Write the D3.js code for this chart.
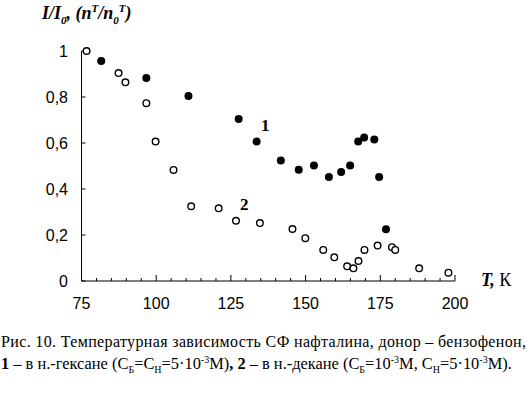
<!DOCTYPE html>
<html>
<head>
<meta charset="utf-8">
<script src="https://cdn.jsdelivr.net/npm/d3@7"></script>
<style>
  body { margin: 0; background: #fff; }
  svg { display: block; }
</style>
</head>
<body>
<div id="chart"></div>
<script>
/* series 1: n-hexane (filled), series 2: n-decane (open) */
var hexaneT = [81.6, 96.7, 110.8, 127.6, 133.6, 141.7, 147.7, 152.8, 157.8, 161.9, 164.9, 167.6, 169.6, 173.0, 174.6, 176.9];
var hexaneV = [0.957, 0.883, 0.804, 0.704, 0.606, 0.524, 0.484, 0.502, 0.452, 0.474, 0.502, 0.606, 0.624, 0.615, 0.452, 0.225];

var decaneT = [76.7, 87.4, 89.7, 96.7, 99.8, 105.8, 111.7, 120.9, 126.7, 134.7, 145.6, 149.9, 155.9, 159.6, 163.9, 166.0, 167.7, 169.7, 174.1, 178.9, 180.0, 188.0, 197.8];
var decaneV = [1.0, 0.904, 0.864, 0.773, 0.606, 0.483, 0.325, 0.316, 0.262, 0.252, 0.226, 0.186, 0.135, 0.103, 0.064, 0.055, 0.087, 0.135, 0.154, 0.147, 0.135, 0.055, 0.036];

var xMajor = [75, 100, 125, 150, 175, 200];
var yTicks = [0, 0.2, 0.4, 0.6, 0.8, 1];

var width = 530, height = 398;

var x = d3.scaleLinear().domain([75, 200]).range([81.5, 455]);
var y = d3.scaleLinear().domain([0, 1]).range([281, 51]);

var svg = d3.select("#chart")
            .append("svg")
            .attr("width", width)
            .attr("height", height);

var fmt = function(d) { return String(d).replace(".", ","); };

/* y axis: line, inward ticks, labels */
svg.append("line")
    .attr("x1", x(75)).attr("x2", x(75))
    .attr("y1", y(0)).attr("y2", y(1))
    .attr("stroke", "#000").attr("stroke-width", 1);

svg.selectAll(".ytick").data(yTicks)
    .enter().append("line")
    .attr("x1", x(75)).attr("x2", x(75) + 4)
    .attr("y1", function(d) { return y(d); })
    .attr("y2", function(d) { return y(d); })
    .attr("stroke", "#000");

svg.selectAll(".ylab").data(yTicks)
    .enter().append("text")
    .attr("x", 68)
    .attr("y", function(d) { return y(d) + 6; })
    .attr("text-anchor", "end")
    .attr("font-family", "Liberation Sans, Arial, sans-serif")
    .attr("font-size", 16)
    .text(fmt);

/* x axis: line, major and minor ticks upward */
svg.append("line")
    .attr("x1", x(75)).attr("x2", x(200))
    .attr("y1", y(0)).attr("y2", y(0))
    .attr("stroke", "#000");

svg.selectAll(".xtick").data(d3.range(75, 201, 5))
    .enter().append("line")
    .attr("x1", function(d) { return x(d); })
    .attr("x2", function(d) { return x(d); })
    .attr("y1", y(0))
    .attr("y2", function(d) { return y(0) - (d % 25 === 0 ? 6 : 3); })
    .attr("stroke", "#000");

svg.selectAll(".xlab").data(xMajor)
    .enter().append("text")
    .attr("x", function(d) { return x(d); })
    .attr("y", 309)
    .attr("text-anchor", "middle")
    .attr("font-family", "Liberation Sans, Arial, sans-serif")
    .attr("font-size", 16)
    .text(function(d) { return d; });

/* points */
var hexane = hexaneT.map(function(t, i) { return [t, hexaneV[i]]; });
var decane = decaneT.map(function(t, i) { return [t, decaneV[i]]; });

svg.selectAll(".p2").data(decane)
    .enter().append("circle")
    .attr("cx", function(d) { return x(d[0]); })
    .attr("cy", function(d) { return y(d[1]); })
    .attr("r", 3.3)
    .attr("fill", "#fff")
    .attr("stroke", "#000")
    .attr("stroke-width", 1.4);

svg.selectAll(".p1").data(hexane)
    .enter().append("circle")
    .attr("cx", function(d) { return x(d[0]); })
    .attr("cy", function(d) { return y(d[1]); })
    .attr("r", 4)
    .attr("fill", "#000");

/* series numbers */
var serif = "Liberation Serif, Times New Roman, serif";
svg.append("text").attr("x", 261).attr("y", 131)
    .attr("font-family", serif).attr("font-weight", "bold").attr("font-size", 17)
    .text("1");
svg.append("text").attr("x", 240).attr("y", 210)
    .attr("font-family", serif).attr("font-weight", "bold").attr("font-size", 17)
    .text("2");

/* axis titles */
var xt = svg.append("text").attr("x", 481).attr("y", 286)
    .attr("font-family", serif).attr("font-size", 18);
xt.append("tspan").attr("font-weight", "bold").attr("font-style", "italic").text("T,");
xt.append("tspan").text(" К");

var yt = svg.append("text").attr("x", 42).attr("y", 19)
    .attr("font-family", serif).attr("font-size", 18)
    .attr("font-weight", "bold").attr("font-style", "italic");
yt.append("tspan").text("I/I");
yt.append("tspan").attr("font-size", 11).attr("dy", 5).text("0");
yt.append("tspan").attr("dy", -5).text(", (n");
yt.append("tspan").attr("font-size", 11).attr("dy", -7).text("T");
yt.append("tspan").attr("dy", 7).text("/n");
yt.append("tspan").attr("font-size", 11).attr("dy", 5).text("0");
yt.append("tspan").attr("font-size", 11).attr("dy", -12).text("T");
yt.append("tspan").attr("dy", 7).text(")");

/* caption */
var cap1 = svg.append("text").attr("x", 1).attr("y", 347)
    .attr("font-family", serif).attr("font-size", 16)
    .attr("textLength", 525).attr("lengthAdjust", "spacing")
    .text("Рис. 10. Температурная зависимость СФ нафталина, донор – бензофенон,");

var cap2 = svg.append("text").attr("x", 1).attr("y", 369)
    .attr("font-family", serif).attr("font-size", 16.4);
cap2.append("tspan").attr("font-weight", "bold").text("1");
cap2.append("tspan").text(" – в н.-гексане (С");
cap2.append("tspan").attr("font-size", 10).attr("dy", 4).text("Б");
cap2.append("tspan").attr("dy", -4).text("=С");
cap2.append("tspan").attr("font-size", 10).attr("dy", 4).text("Н");
cap2.append("tspan").attr("dy", -4).text("=5·10");
cap2.append("tspan").attr("font-size", 10).attr("dy", -6).text("-3");
cap2.append("tspan").attr("dy", 6).text("М)");
cap2.append("tspan").attr("font-weight", "bold").text(", 2");
cap2.append("tspan").text(" – в н.-декане (С");
cap2.append("tspan").attr("font-size", 10).attr("dy", 4).text("Б");
cap2.append("tspan").attr("dy", -4).text("=10");
cap2.append("tspan").attr("font-size", 10).attr("dy", -6).text("-3");
cap2.append("tspan").attr("dy", 6).text("М, С");
cap2.append("tspan").attr("font-size", 10).attr("dy", 4).text("Н");
cap2.append("tspan").attr("dy", -4).text("=5·10");
cap2.append("tspan").attr("font-size", 10).attr("dy", -6).text("-3");
cap2.append("tspan").attr("dy", 6).text("М).");
</script>
</body>
</html>
